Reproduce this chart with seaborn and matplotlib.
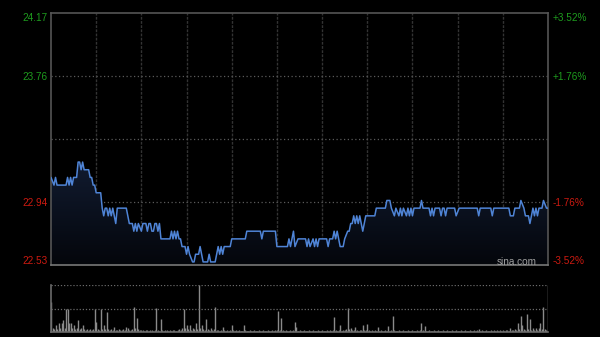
import numpy as np
import pandas as pd
import matplotlib
matplotlib.use("Agg")
import matplotlib.pyplot as plt
from matplotlib.colors import LinearSegmentedColormap
import seaborn as sns

# ---------------- data ----------------
prev_close = 23.35
y_ticks_left = [24.17, 23.76, 22.94, 22.53]
y_ticks_right = ["+3.52%", "+1.76%", "-1.76%", "-3.52%"]

price_minutes = [0, 2, 3, 4, 10, 11, 12, 13, 14, 15, 17, 18, 19, 20, 21, 22, 25, 26, 27, 28,
                 29, 30, 33, 34, 35, 36, 37, 38, 39, 40, 41, 42, 43, 44, 50, 51, 52, 54, 55, 56,
                 57, 58, 60, 61, 63, 64, 65, 66, 67, 68, 69, 70, 71, 72, 73, 79, 80, 81, 82, 83,
                 84, 85, 86, 87, 89, 90, 91, 92, 94, 95, 96, 98, 99, 100, 101, 104, 105, 106, 109, 110,
                 111, 112, 113, 114, 115, 119, 120, 129, 130, 139, 140, 141, 149, 150, 157, 158, 159, 161, 162, 164,
                 169, 170, 171, 172, 174, 175, 176, 177, 178, 183, 184, 185, 187, 188, 189, 190, 191, 192, 194, 195,
                 197, 198, 199, 200, 201, 202, 203, 204, 205, 206, 207, 209, 215, 216, 222, 223, 225, 226, 228, 229,
                 231, 232, 233, 234, 236, 237, 238, 239, 240, 241, 245, 246, 247, 251, 252, 253, 254, 255, 258, 259,
                 260, 261, 262, 263, 268, 269, 271, 283, 284, 285, 292, 293, 294, 304, 305, 307, 308, 311, 312, 314,
                 315, 317, 318, 319, 320, 321, 322, 323, 324, 326, 327, 329, 330]
price_values = [23.10, 23.05, 23.10, 23.05, 23.05, 23.10, 23.05, 23.10, 23.05, 23.10, 23.10, 23.20, 23.20, 23.15, 23.20, 23.15, 23.15, 23.10, 23.10, 23.05,
                23.05, 23.00, 23.00, 22.90, 22.85, 22.90, 22.90, 22.85, 22.90, 22.85, 22.90, 22.85, 22.80, 22.90, 22.90, 22.85, 22.80, 22.80, 22.75, 22.80,
                22.75, 22.80, 22.75, 22.80, 22.80, 22.75, 22.80, 22.80, 22.75, 22.75, 22.80, 22.80, 22.75, 22.80, 22.70, 22.70, 22.75, 22.70, 22.75, 22.70,
                22.75, 22.70, 22.70, 22.65, 22.65, 22.60, 22.65, 22.60, 22.55, 22.55, 22.60, 22.60, 22.65, 22.60, 22.55, 22.55, 22.60, 22.55, 22.55, 22.60,
                22.65, 22.60, 22.65, 22.60, 22.65, 22.65, 22.70, 22.70, 22.75, 22.75, 22.70, 22.75, 22.75, 22.65, 22.65, 22.70, 22.65, 22.75, 22.65, 22.70,
                22.70, 22.65, 22.70, 22.65, 22.70, 22.65, 22.70, 22.65, 22.70, 22.70, 22.65, 22.70, 22.70, 22.75, 22.70, 22.75, 22.70, 22.65, 22.65, 22.70,
                22.75, 22.75, 22.80, 22.80, 22.85, 22.80, 22.85, 22.80, 22.85, 22.80, 22.75, 22.85, 22.85, 22.90, 22.90, 22.95, 22.95, 22.90, 22.85, 22.90,
                22.85, 22.90, 22.85, 22.90, 22.85, 22.90, 22.85, 22.90, 22.85, 22.90, 22.90, 22.95, 22.90, 22.90, 22.85, 22.90, 22.85, 22.90, 22.90, 22.85,
                22.90, 22.90, 22.85, 22.90, 22.90, 22.85, 22.90, 22.90, 22.85, 22.90, 22.90, 22.85, 22.90, 22.90, 22.85, 22.85, 22.90, 22.90, 22.95, 22.90,
                22.85, 22.85, 22.80, 22.85, 22.90, 22.85, 22.90, 22.85, 22.90, 22.90, 22.95, 22.90, 22.90]

# per-minute volume (minute 0 .. 330), arbitrary units
volume = [30, 4, 3, 7, 3, 9, 4, 9, 12, 4, 23, 23, 9, 9, 4, 7, 3, 4, 12, 3, 4, 7, 3, 2, 3, 2, 3, 2, 3, 23,
          10, 3, 2, 23, 3, 7, 3, 20, 3, 2, 3, 2, 5, 2, 2, 3, 2, 2, 3, 2, 5, 4, 2, 2, 3, 25, 4, 14, 3, 2,
          2, 2, 1, 2, 2, 1, 2, 2, 1, 2, 24, 2, 1, 13, 2, 1, 2, 2, 1, 2, 1, 2, 2, 1, 2, 3, 2, 4, 23, 4,
          7, 3, 7, 2, 4, 3, 9, 3, 47, 4, 7, 3, 2, 13, 3, 2, 4, 2, 3, 25, 2, 2, 1, 2, 5, 2, 1, 2, 1, 2,
          7, 2, 1, 2, 1, 2, 1, 1, 7, 2, 1, 1, 2, 1, 1, 2, 1, 1, 2, 1, 1, 2, 1, 1, 2, 1, 1, 2, 1, 2,
          2, 21, 2, 14, 2, 1, 2, 1, 1, 2, 1, 2, 10, 5, 1, 2, 1, 1, 2, 1, 1, 2, 1, 1, 2, 1, 1, 2, 1, 1,
          2, 1, 1, 2, 1, 2, 1, 2, 15, 2, 1, 2, 7, 1, 2, 2, 3, 24, 3, 4, 2, 2, 5, 2, 1, 2, 2, 7, 2, 2,
          8, 2, 1, 2, 1, 2, 1, 5, 1, 2, 1, 1, 2, 1, 6, 1, 2, 16, 2, 1, 1, 2, 1, 1, 2, 1, 1, 2, 1, 1,
          2, 1, 1, 2, 1, 2, 9, 2, 6, 1, 1, 2, 1, 1, 2, 1, 1, 2, 1, 1, 2, 1, 1, 2, 1, 1, 2, 1, 1, 2,
          1, 1, 2, 1, 1, 2, 1, 1, 2, 1, 1, 2, 1, 2, 3, 1, 2, 1, 1, 2, 1, 1, 2, 1, 2, 1, 2, 1, 2, 1,
          2, 1, 2, 2, 1, 4, 2, 2, 3, 2, 9, 3, 16, 7, 3, 2, 18, 3, 13, 2, 4, 2, 4, 2, 4, 9, 3, 25, 3, 2,
          47]
volume_minutes = list(range(len(volume)))

# ---------------- style ----------------
sns.set_theme(style="dark")
plt.rcParams['font.family'] = ['Liberation Sans', 'DejaVu Sans']

W, H = 600, 337
fig = plt.figure(figsize=(6.0, 3.37), dpi=100, facecolor='black')

def fx(px):
    return px / W

def fy(py):
    return 1 - py / H

L, R = 51, 548
ax = fig.add_axes([fx(L), fy(265), fx(R) - fx(L), fy(13) - fy(265)])
axv = fig.add_axes([fx(L), fy(332), fx(R) - fx(L), fy(285) - fy(332)])

ymin, ymax = 22.53, 24.17
green = '#1e9b1e'
red = '#cc1a10'
line_col = '#4f84d6'

for a in (ax, axv):
    a.set_facecolor('black')
    a.set_xticks([])
    a.set_yticks([])
    a.grid(False)

ax.set_xlim(0, 330)
ax.set_ylim(ymin, ymax)

# grid
for m in range(30, 330, 30):
    ax.axvline(m, color='#333333', lw=1, ls=(0, (2, 1)), zorder=1)
for v in [23.76, prev_close, 22.94]:
    ax.axhline(v, color='#5a5a5a', lw=0.9, ls=(0, (1, 2)), zorder=1)

# gradient fill under line
df = pd.DataFrame({'minute': price_minutes, 'price': price_values})
poly = ax.fill_between(df['minute'], df['price'], ymin, color='none', lw=0)
cmap = LinearSegmentedColormap.from_list('g', ['#04060b', '#111b30'])
grad = np.linspace(0, 1, 200).reshape(-1, 1)
im = ax.imshow(grad, extent=[0, 330, ymin, 23.2], origin='lower', aspect='auto',
               cmap=cmap, zorder=2)
im.set_clip_path(poly.get_paths()[0], transform=ax.transData)
ax.set_xlim(0, 330)
ax.set_ylim(ymin, ymax)

sns.lineplot(data=df, x='minute', y='price', ax=ax, color=line_col, lw=1.1,
             estimator=None, zorder=3)
ax.set_xlabel('')
ax.set_ylabel('')

for s in ax.spines.values():
    s.set_color('#555555')
    s.set_linewidth(1.2)
ax.spines['bottom'].set_color('#777777')

# axis labels
fs = 7.2
lab_pos = [18, 77, 203, 261]
cols = [green, green, red, red]
for py, t, t2, c in zip(lab_pos, y_ticks_left, y_ticks_right, cols):
    fig.text(fx(48), fy(py), f"{t:.2f}", color=c, fontsize=fs, ha='right', va='center')
    fig.text(fx(553), fy(py), t2, color=c, fontsize=fs, ha='left', va='center')

fig.text(fx(537), fy(262), 'sina.com', color='#a0a0a0', fontsize=7.2, ha='right', va='center')

# volume panel
vmax = max(volume)
axv.set_xlim(0, 330)
axv.set_ylim(0, vmax)
axv.vlines(volume_minutes, 0, volume, color='#8a8a8a', lw=1.0)
axv.axhline(vmax, color='#6a6a6a', lw=0.9, ls=(0, (1, 1.5)))
axv.axhline(vmax / 2, color='#6a6a6a', lw=0.9, ls=(0, (1, 1.5)))
for k in ['top', 'right']:
    axv.spines[k].set_visible(False)
for k in ['left', 'bottom']:
    axv.spines[k].set_color('#6a6a6a')
    axv.spines[k].set_linewidth(1.2)

fig.savefig('out.png', dpi=100, facecolor='black')
